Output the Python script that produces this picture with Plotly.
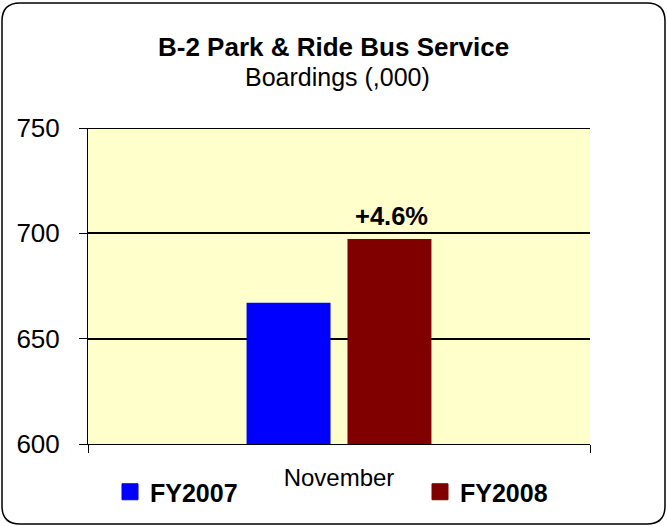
import plotly.graph_objects as go

categories = ["November"]
series_names = ["FY2007", "FY2008"]
fy2007 = [667.0]
fy2008 = [697.3]
change_label = "+4.6%"
colors = ["#0000FF", "#800000"]
y_ticks = [600, 650, 700, 750]

W, H = 667, 526
L, R, T, B = 88, 77, 128, 82
PW, PH = W - L - R, H - T - B

def px(x):
    return (x - L) / PW

def py(y):
    return (H - B - y) / PH

FONT = "Liberation Sans, Arial, sans-serif"

fig = go.Figure()
for name, vals, col in zip(series_names, [fy2007, fy2008], colors):
    fig.add_trace(go.Bar(x=categories, y=vals, name=name, marker_color=col,
                         marker_line_width=0, showlegend=False))
legend_refs = ["legend", "legend2"]
for name, col, lg in zip(series_names, colors, legend_refs):
    fig.add_trace(go.Scatter(x=[None], y=[None], mode="markers", name=name, legend=lg,
                             marker=dict(symbol="square", size=16, color=col,
                                         line=dict(width=1, color=col))))

# top gridline (plotly hides gridlines at the range edge)
fig.add_shape(type="line", xref="paper", x0=0, x1=1, yref="y", y0=y_ticks[-1], y1=y_ticks[-1],
              line=dict(color="black", width=2), layer="above")

# rounded outer border
x0, y0, x1, y1, r = 2, 3, 665, 524, 18
path = (f"M {px(x0+r)},{py(y0)} L {px(x1-r)},{py(y0)} Q {px(x1)},{py(y0)} {px(x1)},{py(y0+r)} "
        f"L {px(x1)},{py(y1-r)} Q {px(x1)},{py(y1)} {px(x1-r)},{py(y1)} "
        f"L {px(x0+r)},{py(y1)} Q {px(x0)},{py(y1)} {px(x0)},{py(y1-r)} "
        f"L {px(x0)},{py(y0+r)} Q {px(x0)},{py(y0)} {px(x0+r)},{py(y0)} Z")
fig.add_shape(type="path", path=path, xref="paper", yref="paper",
              line=dict(color="black", width=1.5), layer="above")

fig.add_annotation(text="<b>B-2 Park & Ride Bus Service</b>", xref="paper", yref="paper",
                   x=px(333.5), y=py(47), xanchor="center", yanchor="middle",
                   showarrow=False, font=dict(size=26, color="black", family=FONT))
fig.add_annotation(text="Boardings (,000)", xref="paper", yref="paper",
                   x=px(337), y=py(77), xanchor="center", yanchor="middle",
                   showarrow=False, font=dict(size=25, color="black", family=FONT))
fig.add_annotation(text=f"<b>{change_label}</b>", x=categories[0], y=fy2008[0],
                   xshift=52, yshift=7, yanchor="bottom", showarrow=False,
                   font=dict(size=25.5, color="black", family=FONT))

legend_style = dict(orientation="h", xanchor="left", yanchor="top",
                    font=dict(size=25, family=FONT, color="black", weight="bold"),
                    bgcolor="rgba(0,0,0,0)", itemclick=False, itemdoubleclick=False)

fig.update_layout(
    width=W, height=H,
    margin=dict(l=L, r=R, t=T, b=B, pad=0, autoexpand=False),
    paper_bgcolor="white", plot_bgcolor="#FFFFCC",
    font=dict(family=FONT, size=25, color="black"),
    barmode="group", bargap=0.598, bargroupgap=0.168,
    showlegend=True,
    legend=dict(x=px(110), y=py(469), **legend_style),
    legend2=dict(x=px(420), y=py(469), **legend_style),
)
fig.update_xaxes(type="category", tickson="boundaries", ticks="outside", ticklen=8,
                 tickcolor="black", showline=True, linecolor="black", linewidth=1,
                 showgrid=False, tickfont=dict(size=24), ticklabelstandoff=12)
fig.update_yaxes(range=[600, 750], tickvals=y_ticks, ticks="outside", ticklen=8,
                 tickcolor="black", showline=True, linecolor="black", linewidth=1,
                 showgrid=True, gridcolor="black", gridwidth=2, zeroline=False,
                 tickfont=dict(size=26), ticklabelstandoff=14)

fig.write_html("out.html", config={"displayModeBar": False},
               post_script="document.body.style.margin='0';")
